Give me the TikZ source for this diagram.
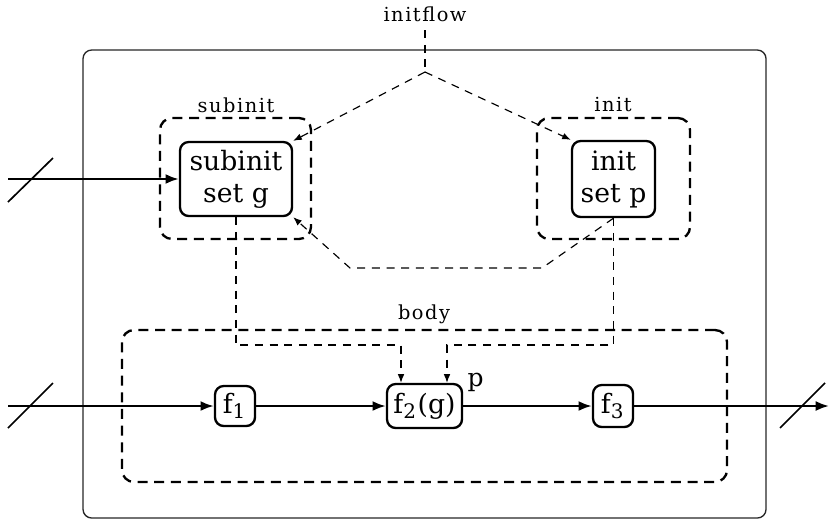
\documentclass[tikz,border=0pt]{standalone}
\usepackage{fontspec}
\setmainfont{DejaVu Serif}
\usetikzlibrary{arrows.meta}
\newfontfamily\lblfont{DejaVu Serif}[LetterSpace=8]
\tikzset{
  fbox/.style={draw,line width=0.7pt,rounded corners=2.6pt,inner sep=0pt,align=center,font=\fontsize{8}{9.6}\selectfont},
  dbox/.style={draw,dashed,line width=0.7pt,dash pattern=on 3pt off 2pt,rounded corners=3.6pt,inner sep=0pt},
  lbl/.style={inner sep=0pt,font=\lblfont\fontsize{5.8}{7}\selectfont},
  flow/.style={line width=0.7pt,-{Latex[length=4pt,width=3pt]}},
  thinflow/.style={line width=0.35pt,dash pattern=on 2.4pt off 2pt,-{Latex[length=2.6pt,width=2pt]}},
  slash/.style={line width=0.5pt}
}
\begin{document}
\begin{tikzpicture}[x=0.3pt,y=-0.3pt]
\useasboundingbox (0,0) rectangle (829,521);
% outer box
\node[draw=black!85,line width=0.4pt,rounded corners=2.6pt,minimum width=204.9pt,minimum height=140.4pt,inner sep=0pt] (outer) at (424.5,284) {};
% dashed containers
\node[dbox,minimum width=45.3pt,minimum height=36.3pt] (subbox) at (235.5,178.5) {};
\node[dbox,minimum width=45.9pt,minimum height=36.3pt] (initbox) at (613.5,178.5) {};
\node[dbox,minimum width=181.5pt,minimum height=45.6pt] (bodybox) at (424.5,406) {};
% labels
\node[lbl] (flowlbl) at (425,14) {initflow};
\node[lbl] (sublbl) at (236,105) {subinit};
\node[lbl] (initlbl) at (613,105) {init};
\node[lbl] (bodylbl) at (424,314) {body};
% main nodes
\node[fbox,minimum width=33.6pt,minimum height=22.2pt] (subnode) at (236,179) {subinit\\set g};
\node[fbox,minimum width=24.9pt,minimum height=22.8pt] (initnode) at (613.5,179) {init\\set p};
\node[fbox,minimum width=12pt,minimum height=12pt] (f1) at (235,406) {f\textsubscript{1}};
\node[fbox,minimum width=22.5pt,minimum height=13.2pt] (f2) at (424.5,406) {f\textsubscript{2}(g)};
\node[fbox,minimum width=12pt,minimum height=12.6pt] (f3) at (613,406) {f\textsubscript{3}};
\node[inner sep=0pt,anchor=south west,font=\fontsize{7.5}{8}\selectfont] (plbl) at (467,392) {p};
% coordinates
\coordinate (peak) at (425,72);
\coordinate (c1) at (542,268);
\coordinate (c2) at (350,268);
\coordinate (j1) at (401,345);
\coordinate (j2) at (447,345);
\coordinate (inA) at (8,179);
\coordinate (inB) at (8,406);
\coordinate (outC) at (829,406);
\coordinate (sA1) at (8,202); \coordinate (sA2) at (53,158);
\coordinate (sB1) at (8,428); \coordinate (sB2) at (53,383);
\coordinate (sC1) at (780,428); \coordinate (sC2) at (825,383);
% initflow
\draw[line width=0.35pt,dash pattern=on 2.4pt off 2pt] (flowlbl.south) ++(0,8) -- (peak);
\draw[thinflow] (peak) -- (subnode.north east);
\draw[thinflow] (peak) -- (initnode.north west);
\draw[thinflow] (initnode.south) -- (c1) -- (c2) -- (subnode.south east);
% to f2
\draw[thinflow] (subnode.south) |- (j1) -- (j1 |- f2.north);
\draw[thinflow] (initnode.south) |- (j2) -- (j2 |- f2.north);
% main flows
\draw[flow] (subnode.west -| inA) -- (subnode.west);
\draw[flow] (inB) -- (f1.west);
\draw[flow] (f1) -- (f2);
\draw[flow] (f2) -- (f3);
\draw[flow] (f3.east) -- (outC);
\draw[slash] (sA1) -- (sA2);
\draw[slash] (sB1) -- (sB2);
\draw[slash] (sC1) -- (sC2);
\end{tikzpicture}
\end{document}
